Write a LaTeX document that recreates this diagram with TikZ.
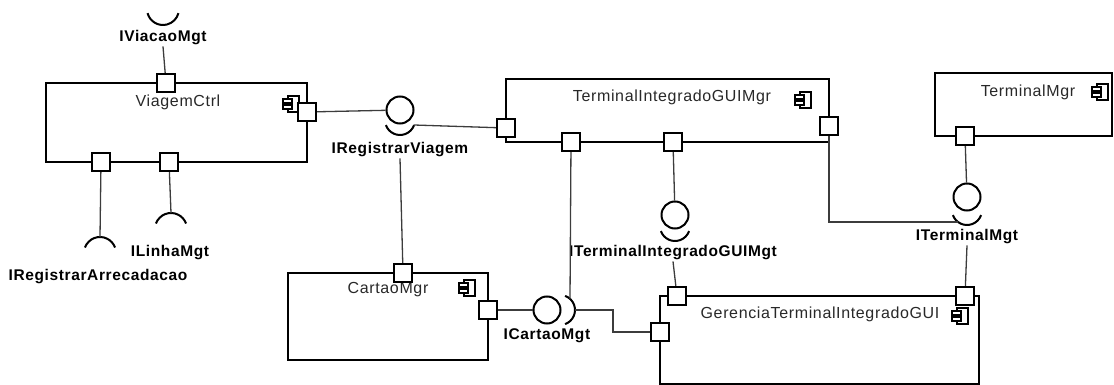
\documentclass[tikz,border=0pt]{standalone}
\usepackage{fontspec}
\setmainfont{Liberation Sans}
\newfontfamily\boxfont[LetterSpace=4]{Liberation Sans}
\usepackage{tikz}
\usetikzlibrary{positioning, calc}
\definecolor{mywire}{RGB}{60,60,60}
\definecolor{mytext}{RGB}{40,40,40}
\tikzset{
  compbox/.style={rectangle, draw=black, line width=2.8pt, inner sep=0pt},
  port/.style={rectangle, draw=black, fill=white, line width=2.4pt,
    minimum size=18pt, inner sep=0pt},
  ball/.style={circle, draw=black, line width=2pt, minimum size=27pt, inner sep=0pt},
  socket/.style={draw=black, line width=2pt},
  wire/.style={draw=mywire, line width=1.3pt},
  complbl/.style={font=\boxfont\fontsize{16}{18}\selectfont, text=mytext, inner sep=0pt},
  ifacelbl/.style={font=\boxfont\bfseries\fontsize{15.5}{17}\selectfont, inner sep=1pt},
  compicon/.pic={
    \draw[line width=1.1pt] (-3,-8) rectangle (8,8);
    \draw[line width=1.1pt, fill=white] (-8,1) rectangle (1,5);
    \draw[line width=1.1pt, fill=white] (-8,-5) rectangle (1,-1);
  }
}

\begin{document}
\begin{tikzpicture}[x=1pt, y=1pt]
  \useasboundingbox (0,0) rectangle (1114,-385);

  % components
  \node[compbox, minimum width=261pt, minimum height=79pt] (vc) at (176.5,-122.5) {};
  \node[compbox, minimum width=323pt, minimum height=63pt] (tigm) at (667.5,-110.5) {};
  \node[compbox, minimum width=200pt, minimum height=87pt] (cm) at (388,-316.5) {};
  \node[compbox, minimum width=319pt, minimum height=88pt] (gtig) at (819.5,-340) {};
  \node[compbox, minimum width=177pt, minimum height=63pt] (tm) at (1023.5,-104.5) {};

  \node[complbl] (vcName) at (178,-102) {ViagemCtrl};
  \node[complbl] (tigmName) at (672,-97) {TerminalIntegradoGUIMgr};
  \node[complbl] (cmName) at (388,-290) {CartaoMgr};
  \node[complbl] (gtigName) at (820,-314) {GerenciaTerminalIntegradoGUI};
  \node[complbl] (tmName) at (1028,-92) {TerminalMgr};

  \pic at (291,-104) {compicon};
  \pic at (803,-100) {compicon};
  \pic at (467,-288) {compicon};
  \pic at (960,-316) {compicon};
  \pic at (1100,-92) {compicon};

  % interface names
  \node[ifacelbl] (viacao) at (163,-38) {IViacaoMgt};
  \node[ifacelbl] (arrec) at (98,-277) {IRegistrarArrecadacao};
  \node[ifacelbl] (linha) at (170,-253) {ILinhaMgt};
  \node[ifacelbl] (regviag) at (400,-150) {IRegistrarViagem};
  \node[ifacelbl] (tigmgt) at (673,-253) {ITerminalIntegradoGUIMgt};
  \node[ifacelbl] (cartao) at (547,-336) {ICartaoMgt};
  \node[ifacelbl] (termgt) at (967,-237) {ITerminalMgt};

  % provided interfaces
  \node[ball] (bRV) at (400,-110) {};
  \node[ball] (bCM) at (547,-310) {};
  \node[ball] (bTIG) at (675,-215) {};
  \node[ball] (bTM) at (967,-197) {};

  % required interfaces
  \coordinate (sVia) at (163,-9);
  \coordinate (sArr) at (100,-253);
  \coordinate (sLin) at (171,-229);
  \coordinate (sRV) at (400,-120);
  \coordinate (sCM) at (560,-310);
  \coordinate (sTIG) at (675,-226);
  \coordinate (sTM) at (967,-210);
  \draw[socket] ([shift={(195:16pt)}]sVia) arc (195:345:16pt);
  \draw[socket] ([shift={(20:16pt)}]sArr) arc (20:160:16pt);
  \draw[socket] ([shift={(20:16pt)}]sLin) arc (20:160:16pt);
  \draw[socket] ([shift={(200:15pt)}]sRV) arc (200:340:15pt);
  \draw[socket] ([shift={(-70:15pt)}]sCM) arc (-70:70:15pt);
  \draw[socket] ([shift={(200:15pt)}]sTIG) arc (200:340:15pt);
  \draw[socket] ([shift={(200:15pt)}]sTM) arc (200:340:15pt);
  \coordinate (sArrTop) at (100,-237);
  \coordinate (sLinTop) at (171,-213);
  \coordinate (sRVend) at (414,-125);
  \coordinate (sCMtop) at (570,-299);
  \coordinate (sCMend) at (575,-310);
  \coordinate (sTMleft) at (958,-222);

  % ports
  \node[port] (vcT) at (166,-83) {};
  \node[port] (vcR) at (307,-112) {};
  \node[port] (vcB1) at (101,-162) {};
  \node[port] (vcB2) at (169,-162) {};
  \node[port] (tigmL) at (506,-128) {};
  \node[port] (tigmB1) at (571,-142) {};
  \node[port] (tigmB2) at (673,-142) {};
  \node[port] (tigmR) at (829,-126) {};
  \node[port] (cmT) at (403,-273) {};
  \node[port] (cmR) at (488,-310) {};
  \node[port] (gtigTL) at (677,-296) {};
  \node[port] (gtigL) at (660,-332) {};
  \node[port] (gtigTR) at (965,-296) {};
  \node[port] (tmB) at (965,-136) {};

  % connectors
  \draw[wire] (vcT) -- (viacao.south);
  \draw[wire] (vcB1) -- (sArrTop);
  \draw[wire] (vcB2) -- (sLinTop);
  \draw[wire] (vcR) -- (bRV);
  \draw[wire] (sRVend) -- (tigmL);
  \draw[wire] (regviag.south) -- (cmT);
  \draw[wire] (tigmB1) -- (sCMtop);
  \draw[wire] (cmR) -- (bCM);
  \draw[wire] (sCMend) -- ++(38,0) |- (gtigL);
  \draw[wire] (tigmB2) -- (bTIG);
  \draw[wire] (tigmgt.south) -- (gtigTL);
  \draw[wire] (tigmR) |- (sTMleft);
  \draw[wire] (tmB) -- (bTM);
  \draw[wire] (termgt.south) -- (gtigTR);
\end{tikzpicture}
\end{document}
